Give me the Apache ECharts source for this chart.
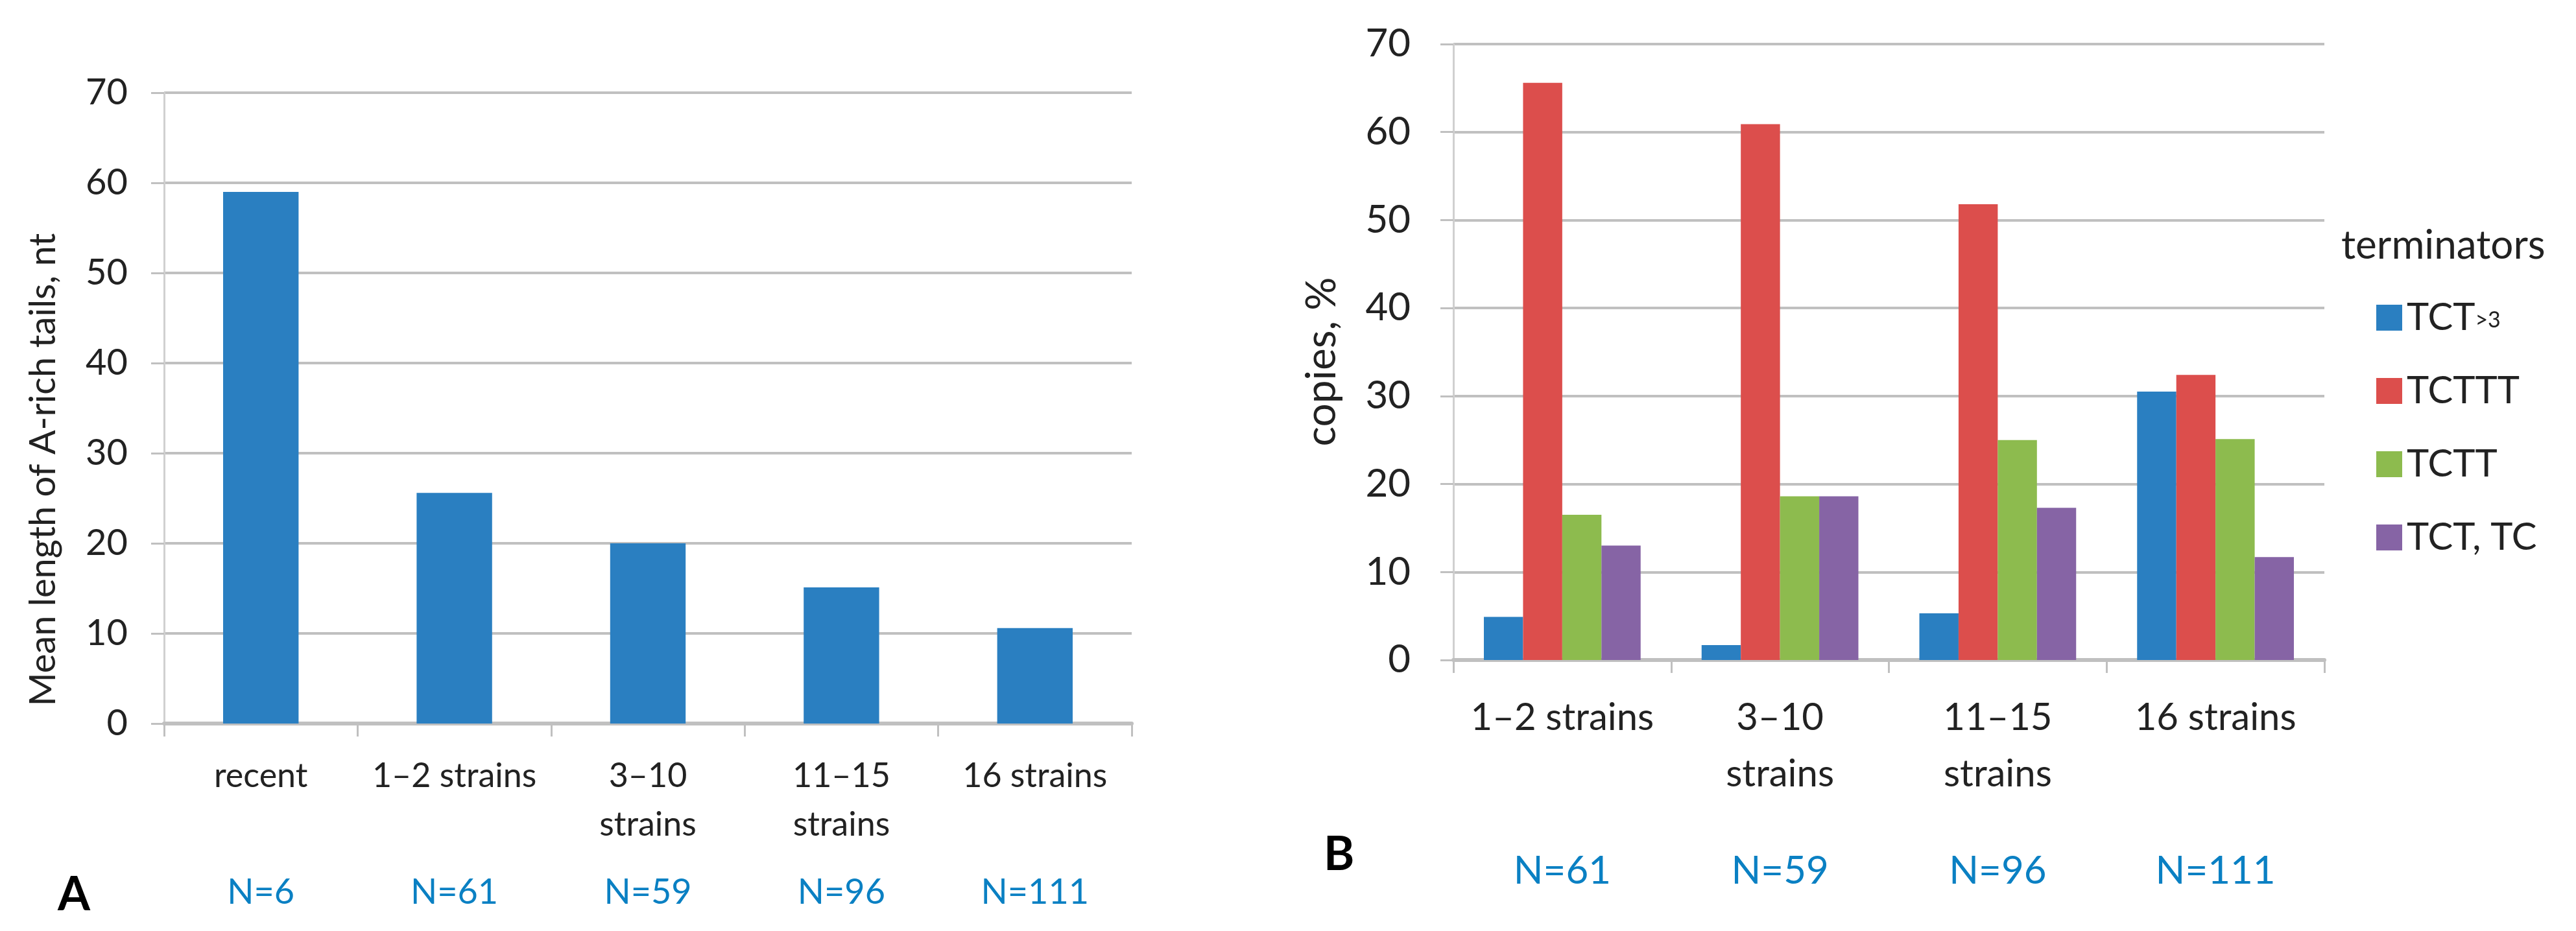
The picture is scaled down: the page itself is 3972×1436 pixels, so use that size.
<!DOCTYPE html>
<html><head><meta charset="utf-8">
<script src="https://cdn.jsdelivr.net/npm/echarts@6/dist/echarts.min.js"></script>
<style>html,body{margin:0;padding:0;background:#fff}#c{width:3972px;height:1436px}</style>
</head><body><div id="c"></div>
<script>
// ---- data ----
const categoriesA = ['recent', '1–2 strains', '3–10\nstrains', '11–15\nstrains', '16 strains'];
const meanLengthA = [59, 25.6, 20, 15.1, 10.6];
const countsA = ['N=6', 'N=61', 'N=59', 'N=96', 'N=111'];

const categoriesB = ['1–2 strains', '3–10\nstrains', '11–15\nstrains', '16 strains'];
const countsB = ['N=61', 'N=59', 'N=96', 'N=111'];
const seriesNamesB = ['TCT>3', 'TCTTT', 'TCTT', 'TCT, TC'];
const tctGt3 = [4.9, 1.7, 5.3, 30.5];
const tcttt = [65.6, 60.9, 51.8, 32.4];
const tctt = [16.5, 18.6, 25.0, 25.1];
const tctTc = [13.0, 18.6, 17.3, 11.7];

const yMin = 0, yMax = 70, yStep = 10;

// ---- style ----
const FONT = 'Lato, "Open Sans", sans-serif';
const TXT = '#222';
const GRIDC = '#c0c0c0';
const NCOL = '#0a80c3';
const colorsB = ['#2a7fc1', '#dc4e4c', '#8dbb4e', '#8664a5'];

const chart = echarts.init(document.getElementById('c'));

function valueAxis(grid, name, nameGap, nameSize, shift, labelSize, labelMargin) {
  return {
    type: 'value', gridIndex: grid, min: yMin, max: yMax, interval: yStep,
    name: name, nameLocation: 'middle', nameGap: nameGap, nameRotate: 90,
    nameTextStyle: { fontFamily: FONT, fontSize: nameSize, color: TXT, padding: [0, shift, 0, 0] },
    axisLine: { show: true, lineStyle: { color: '#d0d0d0', width: 3 } },
    axisTick: { show: true, length: 20, lineStyle: { color: GRIDC, width: 3 } },
    axisLabel: { fontFamily: FONT, fontSize: labelSize, color: TXT, margin: labelMargin },
    splitLine: { show: true, lineStyle: { color: GRIDC, width: 4 } }
  };
}
function catAxis(grid, data, margin, lh, size) {
  return {
    type: 'category', gridIndex: grid, data: data, position: 'bottom',
    axisLine: { show: true, lineStyle: { color: GRIDC, width: 6 } },
    axisTick: { show: true, length: 20, alignWithLabel: false, lineStyle: { color: GRIDC, width: 3 } },
    axisLabel: { fontFamily: FONT, fontSize: size, color: TXT, margin: margin, lineHeight: lh, interval: 0 }
  };
}
function countAxis(grid, data, margin, size) {
  return {
    type: 'category', gridIndex: grid, data: data, position: 'bottom',
    axisLine: { show: false }, axisTick: { show: false }, splitLine: { show: false },
    axisLabel: { fontFamily: FONT, fontSize: size, color: NCOL, margin: margin, lineHeight: size, interval: 0 }
  };
}

const option = {
  backgroundColor: '#fff',
  animation: false,
  title: [
    { text: 'A', left: 84, top: 1340, textStyle: { fontFamily: FONT, fontSize: 72, fontWeight: 'bold', color: '#000' } },
    { text: 'B', left: 2036, top: 1278, textStyle: { fontFamily: FONT, fontSize: 72, fontWeight: 'bold', color: '#000' } },
    { text: 'terminators', left: 3605, top: 343, textStyle: { fontFamily: FONT, fontSize: 62, fontWeight: 'normal', color: TXT } }
  ],
  grid: [
    { left: 253, top: 143, width: 1492, height: 973, containLabel: false },
    { left: 2241, top: 68, width: 1343, height: 950, containLabel: false }
  ],
  xAxis: [
    catAxis(0, categoriesA, 44, 75, 52),
    countAxis(0, countsA, 234, 54),
    catAxis(1, categoriesB, 46, 87, 58),
    countAxis(1, countsB, 296, 60)
  ],
  yAxis: [
    valueAxis(0, 'Mean length of A-rich tails, nt', 158, 56, 190, 56, 56),
    valueAxis(1, 'copies, %', 171, 64, 30, 60, 66)
  ],
  legend: {
    orient: 'vertical', left: 3659, top: 456,
    itemWidth: 40, itemHeight: 40, itemGap: 55, icon: 'rect',
    data: seriesNamesB,
    textStyle: {
      fontFamily: FONT, fontSize: 58, color: TXT, lineHeight: 42, padding: [0, 0, 0, 2],
      rich: {
        m: { fontFamily: FONT, fontSize: 58, color: TXT },
        s: { fontFamily: FONT, fontSize: 34, color: TXT, verticalAlign: 'bottom', padding: [26, 0, 0, 0] }
      }
    },
    formatter: function (n) {
      if (n === 'TCT>3') return '{m|TCT}{s|>3}';
      return '{m|' + n + '}';
    }
  },
  series: [
    { type: 'bar', name: 'mean', xAxisIndex: 0, yAxisIndex: 0, data: meanLengthA, barWidth: '39%',
      itemStyle: { color: colorsB[0] } },
    { type: 'bar', name: seriesNamesB[0], xAxisIndex: 2, yAxisIndex: 1, data: tctGt3, barGap: '0%', barCategoryGap: '28%', itemStyle: { color: colorsB[0] } },
    { type: 'bar', name: seriesNamesB[1], xAxisIndex: 2, yAxisIndex: 1, data: tcttt, barGap: '0%', barCategoryGap: '28%', itemStyle: { color: colorsB[1] } },
    { type: 'bar', name: seriesNamesB[2], xAxisIndex: 2, yAxisIndex: 1, data: tctt, barGap: '0%', barCategoryGap: '28%', itemStyle: { color: colorsB[2] } },
    { type: 'bar', name: seriesNamesB[3], xAxisIndex: 2, yAxisIndex: 1, data: tctTc, barGap: '0%', barCategoryGap: '28%', itemStyle: { color: colorsB[3] } }
  ]
};
chart.setOption(option);
</script></body></html>
